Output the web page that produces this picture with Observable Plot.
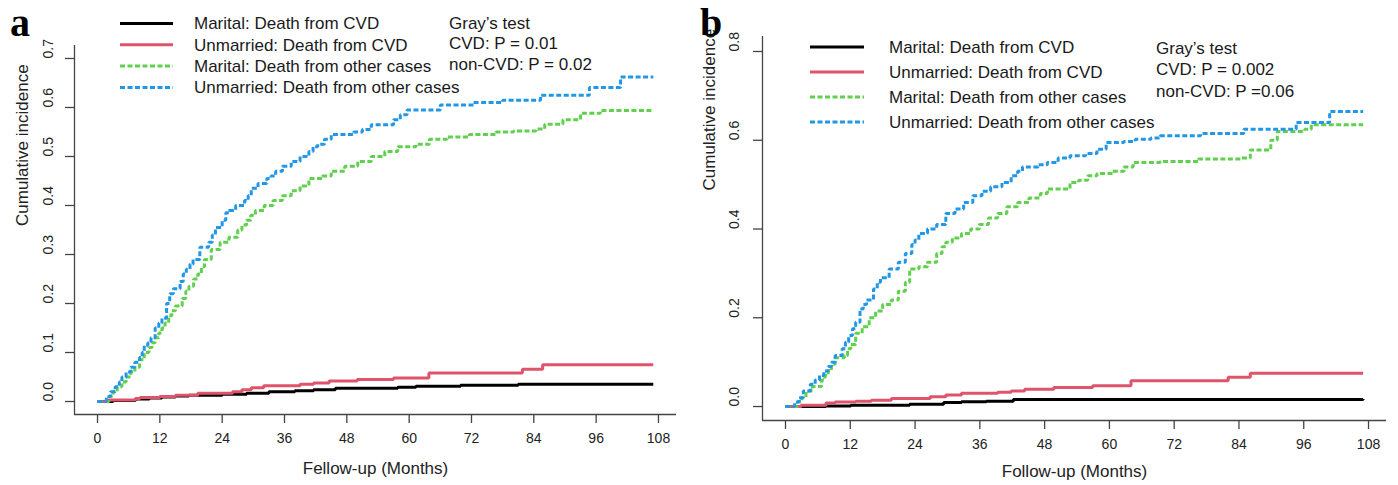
<!DOCTYPE html>
<html><head><meta charset="utf-8">
<script src="https://cdn.jsdelivr.net/npm/d3@7"></script>
<script src="https://cdn.jsdelivr.net/npm/@observablehq/plot@0.6"></script>
<style>
body{margin:0;background:#fff;}
#wrap{display:flex;width:1398px;height:485px;overflow:hidden;}
</style></head><body><div id="wrap"></div>
<script>
// ---------- data ----------
const seriesNames = ["Marital: Death from CVD","Unmarried: Death from CVD","Marital: Death from other cases","Unmarried: Death from other cases"];
const seriesColors = ["#000000","#DF536B","#61D04F","#2297E6"];
const seriesDash = [null,null,"5,2.5","5,2.5"];
const xTicks = [0,12,24,36,48,60,72,84,96,108];
const yTicksA = [0,0.1,0.2,0.3,0.4,0.5,0.6,0.7];
const yTicksB = [0,0.2,0.4,0.6,0.8];
const grayA = ["Gray\u2019s test","CVD: P = 0.01","non-CVD: P = 0.02"];
const grayB = ["Gray\u2019s test","CVD: P = 0.002","non-CVD: P =0.06"];
const xLabelA = "Fellow-up (Months)";
const xLabelB = "Follow-up (Months)";
const yLabel = "Cumulative incidence";

// panel a: [month, cumulative incidence]
const blackA = [[0,0],[3,0.002],[7.3,0.005],[10,0.007],[12.4,0.009],[15,0.011],[17.6,0.013],[24,0.015],[28.7,0.017],[33,0.02],[38,0.022],[41.6,0.024],[45.8,0.027],[57.8,0.029],[61.3,0.031],[69.9,0.033],[81,0.035],[107,0.035]];
const redA = [[0,0],[2.1,0.003],[7.3,0.006],[8.2,0.008],[12,0.01],[15,0.013],[19.3,0.017],[26,0.02],[27.8,0.024],[29.6,0.028],[32,0.032],[39,0.035],[41.6,0.038],[44.6,0.042],[50,0.045],[57,0.048],[63.8,0.058],[81.8,0.066],[85.7,0.075],[107,0.075]];
const greenA = [[0,0],[1.7,0],[2.2,0.01],[3,0.02],[3.8,0.03],[4.7,0.04],[5.5,0.05],[6.4,0.06],[7.2,0.07],[8.1,0.085],[9,0.1],[9.9,0.11],[10.5,0.12],[11.1,0.13],[11.8,0.14],[12.4,0.15],[13,0.16],[13.7,0.175],[14.3,0.185],[15,0.195],[16.3,0.21],[17,0.225],[17.6,0.235],[18.5,0.25],[19.3,0.26],[20,0.275],[20.6,0.29],[21.9,0.31],[23.6,0.325],[25.3,0.335],[27,0.35],[27.8,0.36],[28.7,0.37],[29.5,0.38],[30.4,0.39],[32.1,0.4],[33.8,0.41],[35.6,0.42],[37.3,0.43],[39,0.44],[40.7,0.455],[43.3,0.46],[45,0.47],[47.6,0.48],[50.1,0.49],[52.7,0.5],[55.3,0.51],[57.8,0.52],[61.3,0.525],[63.9,0.535],[67.3,0.54],[71.6,0.545],[76.7,0.55],[80.1,0.552],[84.4,0.556],[86.1,0.566],[89.6,0.575],[93,0.588],[96.8,0.594],[107,0.594]];
const blueA = [[0,0],[1.7,0.01],[2.5,0.02],[3.4,0.03],[4.2,0.04],[4.7,0.05],[5.5,0.06],[6.4,0.07],[7.2,0.08],[8.1,0.09],[8.6,0.1],[9,0.115],[9.7,0.12],[10.3,0.13],[11.1,0.15],[11.8,0.16],[12.4,0.17],[13.3,0.2],[13.9,0.22],[14.6,0.23],[15.9,0.245],[16.5,0.26],[17.1,0.27],[17.8,0.28],[18.4,0.29],[19.7,0.315],[21.4,0.325],[22.1,0.34],[22.7,0.355],[24,0.37],[24.7,0.385],[25.3,0.39],[26.6,0.4],[28.3,0.41],[29,0.42],[29.6,0.435],[30.9,0.445],[32.6,0.455],[33.4,0.46],[34.3,0.47],[35.6,0.48],[37.3,0.49],[39,0.5],[40.7,0.51],[41.5,0.52],[42.4,0.525],[43.7,0.535],[45,0.545],[49.3,0.55],[51,0.555],[52.7,0.565],[57,0.575],[58.3,0.585],[59.6,0.595],[66,0.605],[72.4,0.61],[78,0.615],[85.3,0.625],[94.7,0.641],[100.7,0.662],[107,0.662]];

// panel b
const blackB = [[0,0],[2.1,0],[7.5,0.001],[12.1,0.003],[23,0.005],[29.3,0.009],[32.6,0.011],[37.2,0.012],[42.2,0.016],[107,0.017]];
const redB = [[0,0],[2.9,0.003],[7.5,0.008],[9.2,0.01],[13,0.012],[15.9,0.014],[19.6,0.018],[26.8,0.022],[29.7,0.026],[32.6,0.03],[39.3,0.032],[41.8,0.035],[44.3,0.039],[49.7,0.043],[56.9,0.047],[64,0.058],[82,0.066],[86.1,0.075],[107,0.075]];
const greenB = [[0,0],[1.7,0],[2.2,0.01],[3,0.02],[3.8,0.035],[5,0.045],[6.7,0.06],[7.3,0.07],[7.9,0.08],[8.5,0.095],[9.2,0.11],[10.9,0.115],[11.5,0.13],[12.1,0.14],[13,0.165],[14.2,0.18],[15.5,0.2],[16.7,0.215],[18,0.23],[19.6,0.24],[20.9,0.26],[22.2,0.28],[23,0.31],[24.7,0.315],[26.3,0.325],[28,0.345],[29,0.36],[29.7,0.37],[30.9,0.38],[32.6,0.39],[34.3,0.4],[35.9,0.41],[37.6,0.425],[39.3,0.435],[41,0.45],[43,0.46],[45.1,0.47],[47.2,0.48],[48.5,0.49],[52.7,0.505],[54.3,0.51],[56,0.52],[57.7,0.525],[60.6,0.53],[62.7,0.54],[64.4,0.55],[69.4,0.552],[76.5,0.558],[84.4,0.56],[86.1,0.578],[89.9,0.6],[91.1,0.62],[96.2,0.625],[97.4,0.635],[107,0.635]];
const blueB = [[0,0],[1.7,0.01],[2.5,0.02],[3.3,0.035],[4.6,0.05],[5.5,0.06],[6.3,0.07],[7.1,0.08],[7.9,0.09],[8.5,0.1],[9.2,0.115],[10.5,0.13],[11.1,0.145],[11.7,0.16],[12.4,0.175],[13,0.19],[13.8,0.22],[14.4,0.23],[15,0.24],[16.3,0.265],[17,0.28],[17.6,0.29],[19.2,0.31],[20.9,0.325],[22.2,0.345],[23.4,0.365],[24,0.375],[24.7,0.39],[26.3,0.4],[28,0.41],[29.7,0.435],[31.4,0.445],[33,0.46],[34.7,0.475],[36.4,0.485],[38,0.495],[40.1,0.505],[41.8,0.52],[43,0.53],[43.9,0.54],[46.8,0.545],[48.5,0.55],[50.5,0.56],[52.7,0.565],[55.6,0.57],[57.7,0.58],[59.4,0.595],[62.7,0.597],[64.8,0.602],[67.7,0.605],[69.4,0.61],[76.9,0.615],[84.9,0.625],[94.6,0.64],[100.8,0.665],[107,0.665]];

const FONT = '"Liberation Sans", Arial, Helvetica, sans-serif';

function panel(cfg) {
  const marks = [
    Plot.ruleY([cfg.yDomain[0]], {stroke: "#444", strokeWidth: 1.3}),
    Plot.ruleX([cfg.xDomain[0]], {stroke: "#444", strokeWidth: 1.3}),
    Plot.axisX({ticks: xTicks, tickSize: 9, tickFormat: () => "", label: null, stroke: "#444", strokeWidth: 1.3}),
    Plot.axisY({ticks: cfg.yTicks, tickSize: 9, tickFormat: () => "", label: null, stroke: "#444", strokeWidth: 1.3}),
    Plot.text(xTicks, {x: d => d, frameAnchor: "bottom", dy: 28, text: d => String(d), fontSize: 14}),
    Plot.text(cfg.yTicks, {y: d => d, frameAnchor: "left", dx: cfg.yTickDx, rotate: -90, text: d => d.toFixed(1), fontSize: 14}),
    Plot.text([cfg.xLabel], {frameAnchor: "bottom", dy: cfg.xLabelDy, fontSize: 17}),
    Plot.text([yLabel], {frameAnchor: "left", dx: cfg.yLabelDx, dy: cfg.yLabelDy, rotate: -90, fontSize: 17}),
    ...cfg.series.map((s, i) => Plot.line(s, {
      x: d => d[0], y: d => d[1], curve: "step-after",
      stroke: seriesColors[i], strokeWidth: 3, strokeDasharray: seriesDash[i],
      strokeLinecap: "butt", strokeLinejoin: "miter"
    }))
  ];
  const svg = Plot.plot({
    width: cfg.width, height: 485,
    marginLeft: cfg.mL, marginRight: cfg.mR, marginTop: cfg.mT, marginBottom: cfg.mB,
    x: {domain: cfg.xDomain, axis: null},
    y: {domain: cfg.yDomain, axis: null},
    style: {fontFamily: FONT, fontSize: "14px", color: "#222", background: "#fff", overflow: "visible"},
    marks
  });
  const g = d3.select(svg).append("g").attr("font-family", FONT).attr("font-size", 17)
    .attr("fill", "#1a1a1a").attr("text-anchor", "start");
  seriesNames.forEach((name, i) => {
    const y = cfg.legY + i * cfg.legStep;
    g.append("line").attr("x1", cfg.legX1).attr("x2", cfg.legX2).attr("y1", y).attr("y2", y)
      .attr("stroke", seriesColors[i]).attr("stroke-width", 3)
      .attr("stroke-dasharray", seriesDash[i]).attr("stroke-linecap", "butt");
    g.append("text").attr("x", cfg.legTextX).attr("y", y).attr("dy", "0.35em").text(name);
  });
  cfg.gray.forEach((t, i) => {
    g.append("text").attr("x", cfg.grayX).attr("y", cfg.grayY + i * cfg.grayStep).attr("dy", "0.35em").text(t);
  });
  g.append("text").attr("x", cfg.tagX).attr("y", 36)
    .attr("font-family", '"Liberation Serif", "Times New Roman", serif')
    .attr("font-weight", "bold").attr("font-size", 40).attr("fill", "#000").text(cfg.tag);
  return svg;
}

const wrap = document.getElementById("wrap");
wrap.appendChild(panel({
  width: 700, mL: 74, mR: 24, mT: 45, mB: 71,
  xDomain: [-4.43, 111.47], yDomain: [-0.0265, 0.7265], yTicks: yTicksA,
  yTickDx: -26, xLabel: xLabelA, xLabelDy: 59, yLabelDx: -52, yLabelDy: -4,
  series: [blackA, redA, greenA, blueA],
  legX1: 120, legX2: 173, legTextX: 194, legY: 23.5, legStep: 21.3,
  gray: grayA, grayX: 449, grayY: 23, grayStep: 20.5,
  tag: "a", tagX: 10
}));
wrap.appendChild(panel({
  width: 698, mL: 62, mR: 12, mT: 36, mB: 65,
  xDomain: [-4.26, 111.33], yDomain: [-0.0315, 0.8338], yTicks: yTicksB,
  yTickDx: -28, xLabel: xLabelB, xLabelDy: 56, yLabelDx: -53, yLabelDy: -38,
  series: [blackB, redB, greenB, blueB],
  legX1: 110, legX2: 164, legTextX: 189, legY: 47, legStep: 25,
  gray: grayB, grayX: 456, grayY: 48, grayStep: 21.5,
  tag: "b", tagX: 0
}));
</script></body></html>
